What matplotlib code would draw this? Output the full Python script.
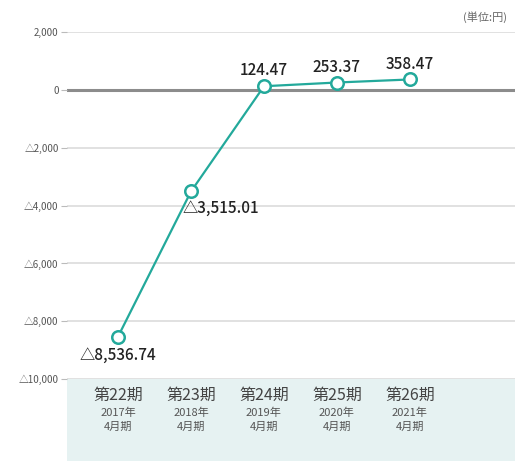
import matplotlib
matplotlib.use('Agg')
import matplotlib.pyplot as plt
from matplotlib.patches import Rectangle
import matplotlib.transforms as mtransforms

plt.rcParams['font.family'] = ['Noto Sans CJK JP', 'DejaVu Sans']

# data
periods = ['第22期', '第23期', '第24期', '第25期', '第26期']
years = ['2017年', '2018年', '2019年', '2020年', '2021年']
values = [-8536.74, -3515.01, 124.47, 253.37, 358.47]
value_labels = ['△8,536.74', '△3,515.01', '124.47', '253.37', '358.47']
yticks = [2000, 0, -2000, -4000, -6000, -8000, -10000]
ytick_labels = ['2,000', '0', '△2,000', '△4,000', '△6,000', '△8,000', '△10,000']

W, H = 515, 461
fig = plt.figure(figsize=(W / 100, H / 100), dpi=100)
ax = fig.add_axes([67 / W, (H - 379) / H, (W - 67) / W, (379 - 32) / H])

# category band below the plot
fig.patches.append(Rectangle((67 / W, 0), 1 - 67 / W, (H - 379) / H,
                             transform=fig.transFigure, facecolor='#e6f2f2',
                             edgecolor='none', zorder=-5))

teal = '#23a99b'
x = list(range(len(values)))
ax.set_xlim(-0.699, 5.44)
ax.set_ylim(-10000, 2000)
ax.patch.set_alpha(0)

for yv in yticks:
    if yv == 0:
        ax.axhline(yv, color='#8c8c8c', lw=2.2, zorder=1)
    else:
        ax.axhline(yv, color='#dcdcdc', lw=1.2, zorder=1)

ax.plot(x, values, color=teal, lw=1.6, marker='o', markersize=9,
        markerfacecolor='white', markeredgecolor=teal, markeredgewidth=1.8, zorder=3)

# data labels
offsets = [(0, -7, 'center', 'top'), (-6, -6, 'left', 'top'),
           (0, 5, 'center', 'bottom'), (0, 5, 'center', 'bottom'), (0, 5, 'center', 'bottom')]
for xi, v, lab, (dx, dy, ha, va) in zip(x, values, value_labels, offsets):
    ax.annotate(lab, (xi, v), xytext=(dx, dy), textcoords='offset points',
                ha=ha, va=va, fontsize=11, color='#222222', fontweight='medium')

ax.set_yticks(yticks)
ax.set_yticklabels(ytick_labels)
ax.tick_params(axis='y', length=4, width=0.8, color='#bbbbbb', labelsize=7, labelcolor='#555555', pad=2)
ax.set_xticks([])
for s in ax.spines.values():
    s.set_visible(False)

# category labels
trans = mtransforms.blended_transform_factory(ax.transData, fig.transFigure)
for xi, p, yr in zip(x, periods, years):
    ax.text(xi, (H - 395) / H, p, transform=trans, ha='center', va='center',
            fontsize=11.5, color='#444444', clip_on=False)
    ax.text(xi, (H - 413) / H, yr, transform=trans, ha='center', va='center',
            fontsize=8, color='#555555', clip_on=False)
    ax.text(xi, (H - 427) / H, '4月期', transform=trans, ha='center', va='center',
            fontsize=8, color='#555555', clip_on=False)

fig.text(463 / W, (H - 17) / H, '(単位:円)', ha='left', va='center', fontsize=8, color='#666666')

fig.savefig('out.png', dpi=100)
